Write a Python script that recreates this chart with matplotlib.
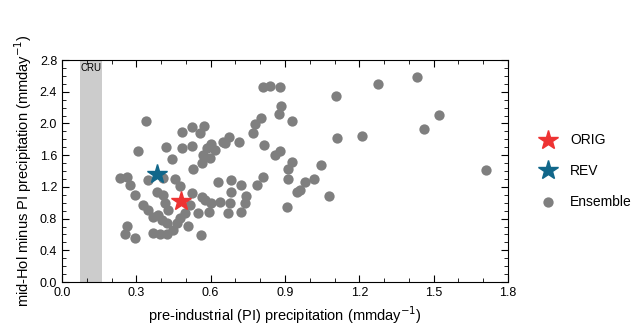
import numpy as np
import matplotlib
matplotlib.use("Agg")
import matplotlib.pyplot as plt
from matplotlib.ticker import MultipleLocator

plt.rcParams["font.family"] = ["Liberation Sans", "DejaVu Sans"]

# Ensemble members: pre-industrial precip vs mid-Holocene minus PI
ens_pi = [
    0.339, 0.307, 0.420, 0.444, 0.484, 0.525, 0.573, 0.557, 0.484, 0.525,
    0.601, 0.585, 0.618, 0.650, 0.569, 0.597, 0.565, 0.529, 0.234, 0.262,
    0.274, 0.347, 0.408, 0.456, 0.630, 0.476, 0.295, 0.383, 0.408, 0.525,
    0.565, 0.577, 0.601, 0.638, 0.327, 0.347, 0.416, 0.428, 0.517, 0.367,
    0.387, 0.404, 0.424, 0.496, 0.476, 0.464, 0.549, 0.593, 0.509, 0.262,
    0.254, 0.295, 0.367, 0.396, 0.424, 0.448, 0.561,
    0.811, 0.839, 0.880, 0.884, 0.876, 0.928, 0.803, 0.779, 0.771, 0.674,
    0.658, 0.714, 0.815, 0.880, 0.860, 0.928, 0.912, 1.045, 0.811, 0.912,
    0.981, 1.017, 0.682, 0.722, 0.787, 0.682, 0.743, 0.678, 0.738, 0.670,
    0.722, 0.960, 0.948, 0.908, 1.077,
    1.106, 1.275, 1.433, 1.521, 1.461, 1.110, 1.211, 1.711,
]
ens_dp = [
    2.030, 1.652, 1.702, 1.551, 1.892, 1.955, 1.967, 1.879, 1.690, 1.715,
    1.740, 1.690, 1.665, 1.765, 1.601, 1.564, 1.501, 1.425, 1.311, 1.324,
    1.223, 1.286, 1.311, 1.299, 1.261, 1.211, 1.097, 1.135, 1.097, 1.122,
    1.072, 1.034, 0.996, 1.009, 0.971, 0.908, 0.996, 0.908, 0.971, 0.820,
    0.845, 0.782, 0.744, 0.870, 0.807, 0.744, 0.870, 0.883, 0.706, 0.706,
    0.605, 0.555, 0.618, 0.605, 0.605, 0.656, 0.593,
    2.459, 2.472, 2.459, 2.219, 2.118, 2.030, 2.068, 1.992, 1.879, 1.828,
    1.753, 1.765, 1.728, 1.652, 1.601, 1.513, 1.425, 1.475, 1.324, 1.299,
    1.261, 1.299, 1.286, 1.223, 1.223, 1.135, 1.084, 0.996, 0.996, 0.870,
    0.883, 1.160, 1.135, 0.946, 1.084,
    2.346, 2.497, 2.585, 2.106, 1.929, 1.816, 1.841, 1.412,
]
orig_pt = (0.480, 1.021)
rev_pt = (0.383, 1.362)
cru_range = (0.073, 0.161)

fig = plt.figure(figsize=(6.43, 3.32), dpi=100)
ax = fig.add_axes([0.0964, 0.1506, 0.6936, 0.6684])

ax.axvspan(*cru_range, color="#cccccc", lw=0, zorder=0)
ax.text(sum(cru_range) / 2, 2.76, "CRU", ha="center", va="top", fontsize=7)

ax.scatter(ens_pi, ens_dp, s=55, color="#7f7f7f", lw=0, zorder=2, label="Ensemble")
ax.plot(*orig_pt, marker="*", ms=15, color="#ee3333", ls="none", zorder=3, label="ORIG")
ax.plot(*rev_pt, marker="*", ms=15, color="#11678a", ls="none", zorder=3, label="REV")

ax.set_xlim(0, 1.8)
ax.set_ylim(0, 2.8)
ax.xaxis.set_major_locator(MultipleLocator(0.3))
ax.xaxis.set_minor_locator(MultipleLocator(0.1))
ax.yaxis.set_major_locator(MultipleLocator(0.4))
ax.yaxis.set_minor_locator(MultipleLocator(0.1))
ax.xaxis.set_major_formatter(lambda v, p: f"{v:.1f}")
ax.yaxis.set_major_formatter(lambda v, p: f"{v:.1f}")
ax.tick_params(which="both", direction="in", top=True, right=True, labelsize=9)
ax.tick_params(which="major", length=5)
ax.tick_params(which="minor", length=3)

ax.set_xlabel("pre-industrial (PI) precipitation (mmday$^{-1}$)", fontsize=10.5)
ax.set_ylabel("mid-Hol minus PI precipitation (mmday$^{-1}$)", fontsize=10.5)

handles, labels = ax.get_legend_handles_labels()
order = [1, 2, 0]
ax.legend([handles[i] for i in order], [labels[i] for i in order],
          loc="center left", bbox_to_anchor=(1.03, 0.5), frameon=False,
          fontsize=10, labelspacing=1.2, handletextpad=0.6)

fig.savefig("out.png", dpi=100)
